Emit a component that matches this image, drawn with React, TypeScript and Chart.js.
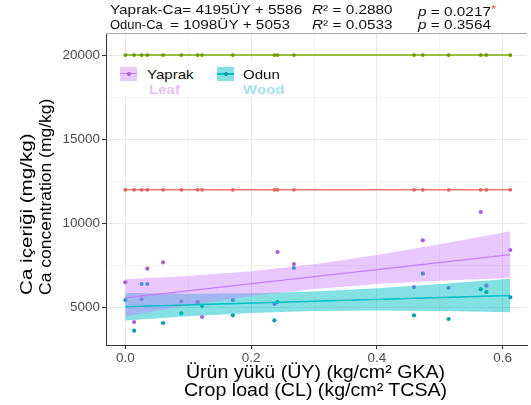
import React, { useEffect, useRef } from "react";
import { Chart, registerables } from "chart.js";

Chart.register(...registerables);

// ---- data ----
const cropLoad = [0.0, 0.014, 0.026, 0.035, 0.06, 0.089, 0.115, 0.122, 0.171, 0.237, 0.242, 0.268, 0.459, 0.473, 0.514, 0.565, 0.574, 0.612];
const leafCa = [6508, 4151, 5499, 7316, 7696, 5380, 5338, 4448, 5457, 5220, 8308, 7595, 6229, 9002, 6170, 10683, 6306, 8426];
const woodCa = [5457, 3634, 6407, 6407, 4091, 4667, 5300, 5101, 4549, 4252, 5338, 7357, 4549, 7019, 4329, 6093, 5932, 5618];

const bandX = [0, 0.1, 0.2, 0.3, 0.4, 0.5, 0.612];
const leafUpper = [6693, 6885, 7161, 7575, 8128, 8771, 9543];
const leafLower = [4479, 5127, 5689, 6115, 6400, 6597, 6763];
const woodUpper = [5868, 5833, 5855, 5961, 6153, 6404, 6725];
const woodLower = [4238, 4493, 4691, 4803, 4831, 4800, 4725];

const fitX = [0, 0.612];
const leafFit = [5586, 8153];
const woodFit = [5053, 5725];

const refLow = 12000;
const refHigh = 20000;

const yTicks = [5000, 7500, 10000, 12500, 15000, 17500, 20000];
const yTickLabels = ["5000", "", "10000", "", "15000", "", "20000"];
const xTicks = [0, 0.1, 0.2, 0.3, 0.4, 0.5, 0.6];
const xTickLabels = ["0.0", "", "0.2", "", "0.4", "", "0.6"];

const headerLeaf = ["Yaprak-Ca= 4195ÜY + 5586", "0.2880", "0.0217"];
const headerWood = ["Odun-Ca", "= 1098ÜY + 5053", "0.0533", "0.3564"];
const xTitle = ["Ürün yükü (ÜY) (kg/cm² GKA)", "Crop load (CL) (kg/cm² TCSA)"];
const yTitle = ["Ca içeriği (mg/kg)", "Ca concentration (mg/kg)"];

const PURPLE = "#C77CFF";
const TEAL = "#00BFC4";
const RED = "#F8766D";
const GREEN = "#7CAE00";
const FONT = '"Liberation Sans", Arial, sans-serif';

const pts = (xs: number[], ys: number[]) => xs.map((x, i) => ({ x, y: ys[i] }));

export default function App() {
  const ref = useRef<HTMLCanvasElement | null>(null);

  useEffect(() => {
    if (!ref.current) return;
    const hidden = "rgba(0,0,0,0)";
    const panelBorder = {
      id: "panelBorder",
      afterDraw(chart: any) {
        const { ctx, chartArea } = chart;
        ctx.save();
        ctx.strokeStyle = "#a8a8a8";
        ctx.lineWidth = 1;
        ctx.beginPath();
        ctx.moveTo(chartArea.left, chartArea.top + 0.5);
        ctx.lineTo(chartArea.right, chartArea.top + 0.5);
        ctx.stroke();
        ctx.restore();
      },
    };
    const chart = new Chart(ref.current, {
      type: "line",
      data: {
        datasets: [
          { label: "leafFit", data: pts(fitX, leafFit), borderColor: PURPLE, borderWidth: 1.4, pointRadius: 0, fill: false, order: 0 },
          { label: "woodFit", data: pts(fitX, woodFit), borderColor: TEAL, borderWidth: 1.6, pointRadius: 0, fill: false, order: 1 },
          { label: "leafUpper", data: pts(bandX, leafUpper), borderColor: hidden, borderWidth: 1, pointRadius: 0, fill: 3, backgroundColor: "rgba(199,124,255,0.42)", order: 2 },
          { label: "leafLower", data: pts(bandX, leafLower), borderColor: hidden, borderWidth: 1, pointRadius: 0, fill: false, order: 3 },
          { label: "woodUpper", data: pts(bandX, woodUpper), borderColor: hidden, borderWidth: 1, pointRadius: 0, fill: 5, backgroundColor: "rgba(0,191,196,0.48)", order: 4 },
          { label: "woodLower", data: pts(bandX, woodLower), borderColor: hidden, borderWidth: 1, pointRadius: 0, fill: false, order: 5 },
          { label: "Yaprak", data: pts(cropLoad, leafCa), showLine: false, pointRadius: 2.1, pointBorderWidth: 0, pointBackgroundColor: "#a45fd6", order: 6 },
          { label: "Odun", data: pts(cropLoad, woodCa), showLine: false, pointRadius: 2.1, pointBorderWidth: 0, pointBackgroundColor: "#0a9ea3", order: 7 },
          { label: "ref12000", data: cropLoad.map((x) => ({ x, y: refLow })), borderColor: RED, borderWidth: 1.5, pointRadius: 1.9, pointBorderWidth: 0, pointBackgroundColor: "#e0645c", fill: false, order: 8 },
          { label: "ref20000", data: cropLoad.map((x) => ({ x, y: refHigh })), borderColor: GREEN, borderWidth: 1.5, pointRadius: 1.9, pointBorderWidth: 0, pointBackgroundColor: "#6a9a00", fill: false, order: 9 },
        ] as any,
      },
      options: {
        animation: false,
        responsive: false,
        devicePixelRatio: 1,
        layout: { padding: { top: 33, left: 0, right: 0, bottom: 0 } },
        plugins: { legend: { display: false }, tooltip: { enabled: false }, title: { display: false } },
        elements: { line: { tension: 0 } },
        scales: {
          x: {
            type: "linear",
            min: -0.0307,
            max: 0.6386,
            afterFit: (s: any) => { s.height = 60; },
            afterBuildTicks: (s: any) => { s.ticks = xTicks.map((v) => ({ value: v })); },
            ticks: {
              callback: (v: any) => { const i = xTicks.findIndex((t) => Math.abs(t - v) < 1e-9); return i >= 0 ? xTickLabels[i] : ""; },
              color: "#4d4d4d",
              font: { family: FONT, size: 13.5 },
              padding: 1,
              maxRotation: 0,
              autoSkip: false,
            },
            grid: {
              color: (c: any) => (c.tick && Math.round(c.tick.value * 10) % 2 === 0 ? "#e8e8e8" : "#f3f3f3"),
              tickColor: (c: any) => (c.tick && Math.round(c.tick.value * 10) % 2 === 0 ? "#333333" : hidden),
              tickLength: 4,
            },
            border: { display: true, color: "#333333", width: 1 },
          },
          y: {
            type: "linear",
            min: 2785,
            max: 21312,
            afterFit: (s: any) => { s.width = 106; },
            afterBuildTicks: (s: any) => { s.ticks = yTicks.map((v) => ({ value: v })); },
            ticks: {
              callback: (v: any) => { const i = yTicks.indexOf(v); return i >= 0 ? yTickLabels[i] : ""; },
              color: "#4d4d4d",
              font: { family: FONT, size: 13.5 },
              padding: 2,
              autoSkip: false,
            },
            grid: {
              color: (c: any) => (c.tick && c.tick.value % 5000 === 0 ? "#e8e8e8" : "#f3f3f3"),
              tickColor: (c: any) => (c.tick && c.tick.value % 5000 === 0 ? "#333333" : hidden),
              tickLength: 4,
            },
            border: { display: true, color: "#333333", width: 1 },
          },
        },
      } as any,
      plugins: [panelBorder],
    });
    return () => chart.destroy();
  }, []);

  const seg = (left: number, top: number, scale = 1.18): React.CSSProperties => ({
    position: "absolute",
    left,
    top,
    fontSize: 13,
    lineHeight: "15px",
    whiteSpace: "nowrap",
    transform: `scaleX(${scale})`,
    transformOrigin: "left top",
    color: "#111",
  });

  const key = (left: number, fill: string): React.CSSProperties => ({
    position: "absolute",
    left,
    top: 66.5,
    width: 17,
    height: 14,
    background: fill,
  });

  return (
    <div style={{ position: "absolute", left: 0, top: 0, width: 531, height: 405, overflow: "hidden", background: "#fff", fontFamily: FONT }}>
      <canvas ref={ref} width={531} height={405} style={{ position: "absolute", left: 0, top: 0, width: 531, height: 405 }} />

      {/* header equations */}
      <div style={seg(110, 1.5)}>{headerLeaf[0]}</div>
      <div style={seg(311.5, 1.5)}><i>R</i>² = {headerLeaf[1]}</div>
      <div style={seg(418, 1.5)}><i>p</i> = {headerLeaf[2]}<span style={{ color: "#e0403a", fontSize: 11, verticalAlign: "3px" }}>*</span></div>
      <div style={seg(110, 16.5, 1.0)}>{headerWood[0]}</div>
      <div style={seg(170, 16.5)}>{headerWood[1]}</div>
      <div style={seg(311.5, 16.5)}><i>R</i>² = {headerWood[2]}</div>
      <div style={seg(418, 16.5)}><i>p</i> = {headerWood[3]}</div>

      {/* legend */}
      <div style={{ position: "absolute", left: 113, top: 61, width: 180, height: 35, background: "#fff" }} />
      <div style={key(120, "rgba(199,124,255,0.42)")}>
        <div style={{ position: "absolute", left: 0, top: 6.5, width: 17, height: 1.4, background: PURPLE }} />
        <div style={{ position: "absolute", left: 6.5, top: 5.2, width: 4, height: 4, borderRadius: 2, background: "#a45fd6" }} />
      </div>
      <div style={key(217, "rgba(0,191,196,0.48)")}>
        <div style={{ position: "absolute", left: 0, top: 6.5, width: 17, height: 1.5, background: TEAL }} />
        <div style={{ position: "absolute", left: 6.5, top: 5.2, width: 4, height: 4, borderRadius: 2, background: "#0a9ea3" }} />
      </div>
      <div style={seg(146.7, 66.5, 1.16)}>Yaprak</div>
      <div style={{ ...seg(149.3, 82.2, 1.16), fontWeight: "bold", color: "#e3c2f6" }}>Leaf</div>
      <div style={seg(243.3, 66.5, 1.16)}>Odun</div>
      <div style={{ ...seg(243.3, 82.2, 1.16), fontWeight: "bold", color: "#a7e2ea" }}>Wood</div>

      {/* x axis title */}
      <div style={{ position: "absolute", left: 0, top: 362.9, width: 631, textAlign: "center", fontSize: 17.5, lineHeight: "18px", whiteSpace: "nowrap", color: "#000", transform: "scaleX(1.12)", transformOrigin: "315.5px 0" }}>
        <div>{xTitle[0]}</div>
        <div>{xTitle[1]}</div>
      </div>

      {/* y axis title */}
      <div style={{ position: "absolute", left: 16.9, top: 295, fontSize: 16.5, lineHeight: "19px", whiteSpace: "nowrap", color: "#000", transform: "rotate(-90deg)", transformOrigin: "left top" }}>
        <div style={{ transform: "scaleX(1.25)", transformOrigin: "left top" }}>{yTitle[0]}</div>
        <div style={{ transform: "scaleX(1.06)", transformOrigin: "left top" }}>{yTitle[1]}</div>
      </div>
    </div>
  );
}
